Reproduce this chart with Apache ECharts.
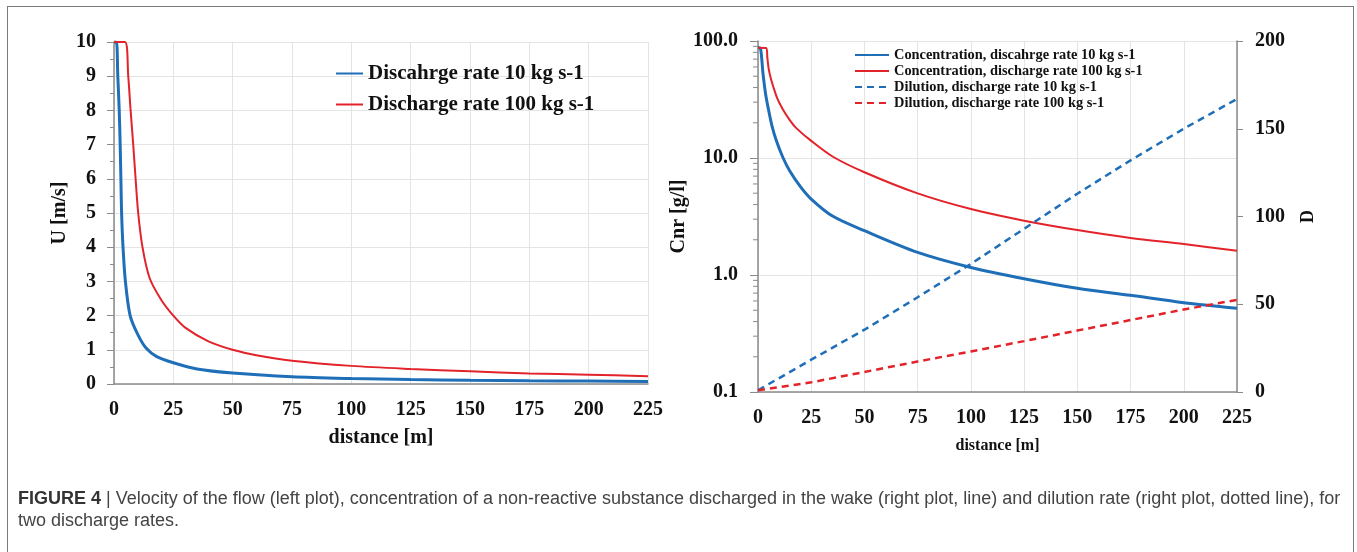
<!DOCTYPE html>
<html>
<head>
<meta charset="utf-8">
<script src="https://cdn.jsdelivr.net/npm/echarts@6/dist/echarts.min.js"></script>
<style>
  html, body { margin: 0; padding: 0; background: #fff; }
  #wrap { position: relative; width: 1357px; height: 552px; overflow: hidden; }
  #chart { position: absolute; left: 0; top: 0; width: 1357px; height: 552px; }
  #frame { position: absolute; left: 7px; top: 6px; width: 1347px; height: 600px; border: 1px solid #7a7a7a; box-sizing: border-box; pointer-events: none; }
  #caption { position: absolute; left: 18px; top: 487px; width: 1335px; font-family: "Liberation Sans", Arial, sans-serif; font-size: 18px; line-height: 22px; color: #444; }
  #caption b { font-weight: bold; color: #333; }
</style>
</head>
<body>
<div id="wrap">
  <div id="chart"></div>
  <div id="frame"></div>
  <div id="caption"><b>FIGURE 4</b> | Velocity of the flow (left plot), concentration of a non-reactive substance discharged in the wake (right plot, line) and dilution rate (right plot, dotted line), for<br>two discharge rates.</div>
</div>
<script>
// left plot: velocity U [m/s] vs distance [m]
const distU10 = [0, 1.0, 1.6, 2.2, 2.6, 2.9, 3.2, 3.8, 4.8, 6.8, 10, 13.5, 18, 25, 35, 50, 75, 100, 125, 150, 175, 200, 225]
const velU10 = [10, 10, 9, 8, 7, 6, 5, 4, 3, 2, 1.45, 1.05, 0.8, 0.62, 0.44, 0.32, 0.21, 0.16, 0.13, 0.11, 0.095, 0.085, 0.075]
const distU100 = [0, 4.6, 6, 7, 8.1, 9.1, 10.2, 12, 15, 20, 25, 30, 40, 50, 60, 75, 100, 125, 150, 175, 200, 225]
const velU100 = [10, 10, 9, 8, 7, 6, 5, 4, 3.1, 2.45, 2.0, 1.65, 1.24, 1.0, 0.84, 0.68, 0.53, 0.44, 0.37, 0.31, 0.27, 0.23]

// right plot: concentration Cnr [g/l] (log) and dilution D
const distC10 = [0, 1.2, 2.35, 3.5, 4.7, 6.5, 8.6, 11.7, 15, 20, 25, 35, 50, 75, 100, 125, 150, 175, 200, 225]
const conc10 = [88, 86, 52.6, 36, 27.2, 19, 14.1, 10.1, 7.7, 5.67, 4.46, 3.19, 2.39, 1.56, 1.16, 0.93, 0.77, 0.67, 0.58, 0.52]
const distC100 = [0, 3.9, 4.4, 5, 6, 7, 9, 11.7, 15, 18, 25, 35, 50, 75, 100, 125, 150, 175, 200, 225]
const conc100 = [87.7, 87, 72, 58, 48, 41.7, 32.5, 26, 21, 18, 14.0, 10.3, 7.55, 4.98, 3.66, 2.91, 2.42, 2.07, 1.84, 1.61]
const distD = [0, 25, 50, 75, 100, 125, 150, 175, 200, 225]
const dil10 = [1, 18.4, 35.5, 54, 73, 93, 113, 132, 150, 167]
const dil100 = [1, 5.5, 11.4, 17.4, 23.1, 29, 35, 41, 47, 52.5]

// log minor ticks on the Cnr axis
const logMinor = [0.2, 0.3, 0.4, 0.5, 0.6, 0.7, 0.8, 0.9, 2, 3, 4, 5, 6, 7, 8, 9, 20, 30, 40, 50, 60, 70, 80, 90]

const legendLeft = ['Discahrge rate 10 kg s-1', 'Discharge rate 100 kg s-1']
const legendRight = [
  'Concentration, discahrge rate 10 kg s-1',
  'Concentration, discharge rate 100 kg s-1',
  'Dilution, discharge rate 10 kg s-1',
  'Dilution, discharge rate 100 kg s-1'
]

const BLUE = '#1f6fb8'
const RED = '#e3232a'
const SERIF = '"Liberation Serif", "Times New Roman", serif'
const AXIS = '#8a8a8a'
const GRID = '#e4e4e4'

const zip = (xs, ys) => xs.map((x, i) => [x, ys[i]])

const chart = echarts.init(document.getElementById('chart'))

const labelStyle = { fontFamily: SERIF, fontWeight: 'bold', fontSize: 20, color: '#111' }

const xAxisBase = (gridIndex, nameSize, nameGap) => ({
  type: 'value',
  gridIndex,
  min: 0,
  max: 225,
  interval: 25,
  name: 'distance [m]',
  nameLocation: 'middle',
  nameGap,
  nameTextStyle: { fontFamily: SERIF, fontWeight: 'bold', fontSize: nameSize, color: '#111' },
  axisLine: { show: true, lineStyle: { color: AXIS, width: 1.5 } },
  axisTick: { show: false },
  axisLabel: { ...labelStyle, margin: 16 },
  splitLine: { show: true, lineStyle: { color: GRID, width: 1 } }
})

const option = {
  animation: false,
  backgroundColor: '#fff',
  grid: [
    { left: 114, top: 42, width: 534, height: 342 },
    { left: 758, top: 41, width: 479, height: 351 }
  ],
  legend: [
    {
      data: legendLeft,
      left: 330,
      top: 58,
      orient: 'vertical',
      itemWidth: 27,
      itemHeight: 12,
      itemGap: 10,
      itemStyle: { opacity: 0 },
      textStyle: { fontFamily: SERIF, fontWeight: 'bold', fontSize: 21, color: '#111' }
    },
    {
      data: legendRight,
      left: 849,
      top: 43,
      orient: 'vertical',
      itemWidth: 34,
      itemHeight: 10,
      itemGap: 2,
      itemStyle: { opacity: 0 },
      textStyle: { fontFamily: SERIF, fontWeight: 'bold', fontSize: 14.4, color: '#111' }
    }
  ],
  xAxis: [
    xAxisBase(0, 20, 44),
    xAxisBase(1, 16, 46)
  ],
  yAxis: [
    {
      type: 'value',
      gridIndex: 0,
      min: 0,
      max: 10,
      interval: 1,
      name: 'U [m/s]',
      nameLocation: 'middle',
      nameRotate: 90,
      nameGap: 44,
      nameTextStyle: { fontFamily: SERIF, fontWeight: 'bold', fontSize: 20, color: '#111' },
      axisLine: { show: true, lineStyle: { color: AXIS, width: 1.5 } },
      axisTick: { show: true, length: 7, lineStyle: { color: AXIS } },
      minorTick: { show: true, splitNumber: 2, length: 4, lineStyle: { color: AXIS } },
      axisLabel: { ...labelStyle, margin: 18 },
      splitLine: { show: true, lineStyle: { color: GRID, width: 1 } }
    },
    {
      type: 'log',
      logBase: 10,
      gridIndex: 1,
      min: 0.1,
      max: 100,
      name: 'Cnr [g/l]',
      nameLocation: 'middle',
      nameRotate: 90,
      nameGap: 40,
      nameTextStyle: { fontFamily: SERIF, fontWeight: 'bold', fontSize: 20, color: '#111' },
      axisLine: { show: true, lineStyle: { color: AXIS, width: 1.5 } },
      axisTick: { show: true, length: 8, lineStyle: { color: AXIS } },
      axisLabel: { ...labelStyle, margin: 20, formatter: v => Number(v).toFixed(1) },
      splitLine: { show: true, lineStyle: { color: GRID, width: 1 } }
    },
    {
      type: 'value',
      gridIndex: 1,
      position: 'right',
      min: 0,
      max: 200,
      interval: 50,
      name: 'D',
      nameLocation: 'middle',
      nameRotate: 90,
      nameGap: 62,
      nameTextStyle: { fontFamily: SERIF, fontWeight: 'bold', fontSize: 18, color: '#111' },
      axisLine: { show: true, lineStyle: { color: AXIS, width: 1.5 } },
      axisTick: { show: true, length: 6, lineStyle: { color: AXIS } },
      axisLabel: { ...labelStyle, margin: 18 },
      splitLine: { show: false }
    }
  ],
  series: [
    {
      name: legendLeft[0], type: 'line', xAxisIndex: 0, yAxisIndex: 0,
      symbol: 'none', smooth: 0.3, data: zip(distU10, velU10),
      lineStyle: { color: BLUE, width: 3 }, itemStyle: { color: BLUE }
    },
    {
      name: legendLeft[1], type: 'line', xAxisIndex: 0, yAxisIndex: 0,
      symbol: 'none', smooth: 0.3, data: zip(distU100, velU100),
      lineStyle: { color: RED, width: 2 }, itemStyle: { color: RED }
    },
    {
      name: legendRight[0], type: 'line', xAxisIndex: 1, yAxisIndex: 1,
      symbol: 'none', smooth: 0.3, data: zip(distC10, conc10),
      lineStyle: { color: BLUE, width: 3 }, itemStyle: { color: BLUE }
    },
    {
      name: legendRight[1], type: 'line', xAxisIndex: 1, yAxisIndex: 1,
      symbol: 'none', smooth: 0.3, data: zip(distC100, conc100),
      lineStyle: { color: RED, width: 2 }, itemStyle: { color: RED }
    },
    {
      name: legendRight[2], type: 'line', xAxisIndex: 1, yAxisIndex: 2,
      symbol: 'none', data: zip(distD, dil10),
      lineStyle: { color: BLUE, width: 2.5, type: [7, 5] }, itemStyle: { color: BLUE }
    },
    {
      name: legendRight[3], type: 'line', xAxisIndex: 1, yAxisIndex: 2,
      symbol: 'none', data: zip(distD, dil100),
      lineStyle: { color: RED, width: 2.5, type: [7, 5] }, itemStyle: { color: RED }
    },
    {
      // minor ticks of the log axis
      type: 'custom', xAxisIndex: 1, yAxisIndex: 1, silent: true,
      data: logMinor.map(v => [0, v]),
      encode: { x: 0, y: 1 },
      renderItem: (params, api) => {
        const p = api.coord([0, api.value(1)])
        return {
          type: 'line',
          shape: { x1: p[0] - 5, y1: p[1], x2: p[0], y2: p[1] },
          style: { stroke: AXIS, lineWidth: 1 }
        }
      }
    }
  ]
}

chart.setOption(option)
</script>
</body>
</html>
